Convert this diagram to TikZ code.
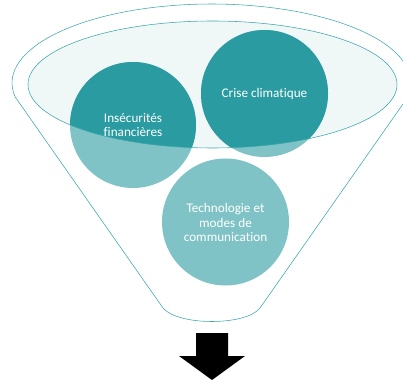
\documentclass[tikz,border=0pt]{standalone}
\usepackage{fontspec}
\setmainfont{Carlito}[Ligatures=NoCommon]
\definecolor{tealdark}{HTML}{2A9BA0}
\definecolor{teallight}{HTML}{80C3C6}
\definecolor{tealline}{HTML}{3AA7AE}
\definecolor{ellfill}{HTML}{F0F7F7}
\tikzset{
  bubble/.style={circle, minimum size=#1, inner sep=0pt, fill=teallight},
  bubbletext/.style={text=white, align=center, font=\fontsize{13.2}{14.8}\selectfont},
  funnelline/.style={draw=tealline, line width=0.55pt},
}
\begin{document}
\begin{tikzpicture}[x=1pt,y=-1pt]
\useasboundingbox (0,0) rectangle (403,379);
\clip (0,0) rectangle (403,379);
% outer funnel
\draw[funnelline] (163,308) -- (15.2,97)
  arc[start angle=169.8, end angle=370.2, x radius=199.5, y radius=79]
  -- (260,308) .. controls (246,326) and (178,326) .. (163,308);
% inner ellipse
\fill[ellfill] (212.5,84.5) ellipse[x radius=184.5, y radius=63.5];
% bubbles (light)
\node[bubble=127pt] (tech) at (225.5,222) {};
\node[bubble=126pt] (insec) at (133,125) {};
\node[bubble=127pt] (crise) at (264.5,93.5) {};
% dark parts inside the ellipse
\begin{scope}
  \clip (212.5,84.5) ellipse[x radius=184.5, y radius=63.5];
  \fill[tealdark] (insec.center) circle[radius=63];
  \fill[tealdark] (crise.center) circle[radius=63.5];
\end{scope}
\draw[funnelline] (212.5,84.5) ellipse[x radius=184.5, y radius=63.5];
% labels
\node[bubbletext] (insecl) at (insec.center) {Insécurités\\financières};
\node[bubbletext] (crisel) at (crise.center) {Crise climatique};
\node[bubbletext] (techl) at ([yshift=-0.5]tech.center) {Technologie et\\modes de\\communication};
% arrow
\fill[black] (196,333) -- (228,333) -- (228,356) -- (245,356) -- (212,380)
  -- (179,356) -- (196,356) -- cycle;
\end{tikzpicture}
\end{document}
